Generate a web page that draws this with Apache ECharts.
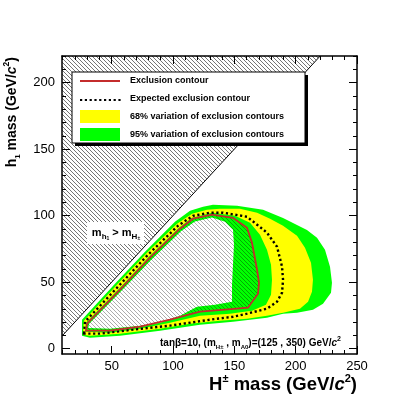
<!DOCTYPE html>
<html><head><meta charset="utf-8">
<script src="https://cdn.jsdelivr.net/npm/echarts@6/dist/echarts.min.js"></script>
<style>html,body{margin:0;padding:0;background:#fff;}#c{width:415px;height:399px;}</style>
</head><body><div id="c"></div>
<script>
// ---------- data ----------
const xRange = [9.5, 250];
const yRange = [-4, 220];
const xTicks = [50, 100, 150, 200, 250];
const yTicks = [0, 50, 100, 150, 200];
const xMinor = [10,20,30,40,50,60,70,80,90,100,110,120,130,140,150,160,170,180,190,200,210,220,230,240,250];
const yMinor = [0,10,20,30,40,50,60,70,80,90,100,110,120,130,140,150,160,170,180,190,200,210,220];
// kinematically forbidden region m_h1 > m_H+ (above the diagonal)
const forbidden = [[9.5, 9.5], [220, 220], [9.5, 220]];
const diagonal = [[9.5, 9.5], [220, 220]];
// observed exclusion contour
const observed = [[29.1,13.5],[29.9,18.8],[56.8,44.3],[81.2,68.4],[105.7,90.2],[116.3,97.7],[131.8,100.7],[148.9,98.4],[160.3,90.9],[164.4,79.6],[168.5,59.4],[170.1,49.6],[169.3,41.3],[161.1,30.8],[142.4,29.3],[122.0,27.8],[97.5,21.8],[73.1,16.5],[48.6,13.5]];
// expected exclusion contour
const expected = [[27.4,11.3],[28.3,20.3],[55.2,46.6],[79.6,70.6],[104.1,92.4],[116.3,99.9],[130.2,102.2],[140.8,102.2],[160.3,99.2],[168.5,93.2],[176.6,87.2],[184.8,76.6],[188.9,61.6],[189.7,51.8],[188.9,42.1],[184.8,35.3],[176.6,30.1],[160.3,26.3],[148.9,24.0],[130.2,21.8],[97.5,17.3],[67.4,14.3],[40.5,11.3]];
// 95% band outer (+2 sigma) and inner (-2 sigma)
const band95Outer = [[25.8,9.8],[25.8,21.8],[52.7,48.8],[77.2,72.9],[101.6,95.4],[113.9,103.7],[124.5,106.7],[132.6,108.2],[152.2,107.4],[173.4,104.4],[189.7,98.3],[209.2,89.3],[217.4,83.4],[223.9,74.4],[228.0,61.6],[229.6,49.6],[228.8,42.1],[222.3,33.8],[214.1,29.3],[201.1,27.0],[189.7,26.3],[176.6,23.3],[148.9,20.3],[122.0,18.0],[89.4,13.5],[56.8,9.8],[32.3,8.3]];
const band95Inner = [[31.0,15.5],[31.5,18.6],[58.0,43.6],[82.1,66.6],[106.5,88.2],[117.9,95.6],[131.8,98.6],[142.4,95.4],[148.9,89.4],[149.7,78.1],[148.9,63.1],[148.1,48.1],[148.1,35.3],[134.2,33.1],[119.6,31.6],[105.7,24.8],[89.4,19.5],[73.1,17.3],[48.6,15.0]];
// 68% band outer (+1 sigma) and inner (-1 sigma)
const band68Outer = [[26.6,10.5],[27.4,21.0],[54.3,48.1],[78.8,72.1],[103.3,93.9],[115.5,101.4],[127.7,104.4],[138.3,105.2],[154.6,105.2],[168.5,102.2],[179.1,97.7],[189.7,92.4],[201.1,84.9],[207.6,75.9],[212.5,64.6],[214.1,51.8],[213.3,42.8],[210.1,35.3],[203.5,30.1],[189.7,27.0],[176.6,24.8],[160.3,22.5],[138.3,21.0],[113.9,18.8],[89.4,15.0],[56.8,11.3],[32.3,9.8]];
const band68Inner = [[28.3,12.8],[29.1,19.5],[56.0,45.1],[80.4,69.1],[104.9,90.9],[115.5,98.4],[131.8,102.2],[150.5,100.0],[162.8,94.7],[170.9,85.7],[176.6,74.4],[179.9,63.1],[180.7,51.8],[179.9,40.6],[175.8,33.1],[164.4,28.6],[146.5,26.3],[122.0,24.8],[97.5,19.5],[73.1,15.0],[48.6,12.0]];
const legendLabels = ['Exclusion contour','Expected exclusion contour','68% variation of exclusion contours','95% variation of exclusion contours'];

// ---------- styles ----------
const FONT = '"Liberation Sans", Arial, Helvetica, sans-serif';
const RED = '#c42c2c', YEL = '#ffff00', GRN = '#00ff00';
function hatch(s, color, lw, bg) {
  const c = document.createElement('canvas'); c.width = s; c.height = s;
  const g = c.getContext('2d');
  if (bg) { g.fillStyle = bg; g.fillRect(0, 0, s, s); }
  g.strokeStyle = color; g.lineWidth = lw; g.beginPath();
  g.moveTo(-1, -1); g.lineTo(s + 1, s + 1);
  g.moveTo(-1, s - 1); g.lineTo(1, s + 1);
  g.moveTo(s - 1, -1); g.lineTo(s + 1, 1);
  g.stroke();
  return c;
}
const hatchOuter = {image: hatch(4, '#3a3a3a', 0.7, '#ffffff'), repeat: 'repeat'};
const hatchInner = {image: hatch(4, 'rgba(0,0,0,0.55)', 0.6, null), repeat: 'repeat'};

function shape(name, pts, type, style, z) {
  return {
    type: 'custom', name, coordinateSystem: 'cartesian2d', xAxisIndex: 0, yAxisIndex: 0,
    data: pts, clip: true, silent: true, z,
    renderItem: (params, api) => params.dataIndex === 0
      ? {type, shape: {points: pts.map(p => api.coord(p))}, style}
      : null
  };
}

function xAxisDef(pos, ticks, len, main) {
  return {
    type: 'value', position: pos, min: xRange[0], max: xRange[1], z: 10,
    axisLine: {show: main, onZero: false, lineStyle: {color: '#000', width: 1.5}},
    axisTick: {show: true, inside: true, length: len, customValues: ticks, lineStyle: {color: '#000', width: 1}},
    axisLabel: (pos === 'bottom' && main) ? {show: true, customValues: xTicks, color: '#000', fontSize: 13, fontFamily: FONT, margin: 6} : {show: false},
    splitLine: {show: false}
  };
}
function yAxisDef(pos, ticks, len, main) {
  return {
    type: 'value', position: pos, min: yRange[0], max: yRange[1], z: 10,
    axisLine: {show: main, onZero: false, lineStyle: {color: '#000', width: 1.5}},
    axisTick: {show: true, inside: true, length: len, customValues: ticks, lineStyle: {color: '#000', width: 1}},
    axisLabel: (pos === 'left' && main) ? {show: true, customValues: yTicks, color: '#000', fontSize: 13, fontFamily: FONT, margin: 7} : {show: false},
    splitLine: {show: false}
  };
}

const option = {
  animation: false,
  backgroundColor: '#fff',
  grid: {left: 62, right: 58, top: 56, bottom: 45, containLabel: false},
  xAxis: [xAxisDef('bottom', xTicks, 8, true), xAxisDef('bottom', xMinor, 4, false), xAxisDef('top', xTicks, 8, true), xAxisDef('top', xMinor, 4, false)],
  yAxis: [yAxisDef('left', yTicks, 8, true), yAxisDef('left', yMinor, 4, false), yAxisDef('right', yTicks, 8, true), yAxisDef('right', yMinor, 4, false)],
  series: [
    shape('forbidden', forbidden, 'polygon', {fill: hatchOuter, stroke: null}, 1),
    shape('diagonal', diagonal, 'polyline', {fill: null, stroke: '#000', lineWidth: 1}, 2),
    shape('95% outer', band95Outer, 'polygon', {fill: GRN, stroke: null}, 3),
    shape('68% outer', band68Outer, 'polygon', {fill: YEL, stroke: null}, 4),
    shape('68% inner', band68Inner, 'polygon', {fill: GRN, stroke: null}, 5),
    shape('95% inner', band95Inner, 'polygon', {fill: '#fff', stroke: null}, 6),
    shape('excluded', observed, 'polygon', {fill: hatchInner, stroke: null}, 7),
    shape('Expected exclusion contour', expected, 'polygon', {fill: null, stroke: '#000', lineWidth: 2.4, lineDash: [2.2, 2.6]}, 8),
    shape('Exclusion contour', observed, 'polygon', {fill: null, stroke: RED, lineWidth: 1.8}, 9)
  ],
  graphic: [
    // legend box with drop shadow
    {type: 'rect', z: 100, shape: {x: 75, y: 75, width: 233, height: 71}, style: {fill: '#000'}},
    {type: 'rect', z: 101, shape: {x: 72, y: 72, width: 233, height: 71}, style: {fill: '#fff', stroke: '#000', lineWidth: 1}},
    {type: 'line', z: 102, shape: {x1: 80, y1: 81, x2: 120, y2: 81}, style: {stroke: RED, lineWidth: 1.8}},
    {type: 'line', z: 102, shape: {x1: 80, y1: 100, x2: 121, y2: 100}, style: {stroke: '#000', lineWidth: 2.2, lineDash: [2.2, 2.6]}},
    {type: 'rect', z: 102, shape: {x: 80, y: 110, width: 40, height: 13}, style: {fill: YEL}},
    {type: 'rect', z: 102, shape: {x: 80, y: 128, width: 40, height: 13}, style: {fill: GRN}},
    {type: 'text', z: 102, x: 130, y: 81, style: {text: legendLabels[0], fill: '#000', font: 'bold 9px ' + FONT, verticalAlign: 'middle'}},
    {type: 'text', z: 102, x: 130, y: 99, style: {text: legendLabels[1], fill: '#000', font: 'bold 9px ' + FONT, verticalAlign: 'middle'}},
    {type: 'text', z: 102, x: 130, y: 117, style: {text: legendLabels[2], fill: '#000', font: 'bold 9px ' + FONT, verticalAlign: 'middle'}},
    {type: 'text', z: 102, x: 130, y: 135, style: {text: legendLabels[3], fill: '#000', font: 'bold 9px ' + FONT, verticalAlign: 'middle'}},
    // forbidden-region label
    {type: 'rect', z: 100, shape: {x: 87, y: 222, width: 57, height: 22}, style: {fill: '#fff'}},
    {type: 'text', z: 101, x: 116, y: 233, style: {
      text: '{m|m}{s|h}{ss|1}{m| > m}{s|H}{ss|±}', align: 'center', verticalAlign: 'middle',
      rich: {
        m: {fontSize: 11, fontWeight: 'bold', fontFamily: FONT, lineHeight: 16, verticalAlign: 'middle', fill: '#000'},
        s: {fontSize: 8, fontWeight: 'bold', fontFamily: FONT, lineHeight: 9, verticalAlign: 'bottom', fill: '#000'},
        ss: {fontSize: 5, fontWeight: 'bold', fontFamily: FONT, lineHeight: 5, verticalAlign: 'bottom', fill: '#000'}
      }}},
    // parameter annotation
    {type: 'text', z: 101, x: 160, y: 343, style: {
      text: '{m|tanβ=10, (m}{s|H±}{m| , m}{s|A0}{m|)=(125 , 350) GeV/}{i|c}{p|2}', verticalAlign: 'middle',
      rich: {
        m: {fontSize: 10, fontWeight: 'bold', fontFamily: FONT, lineHeight: 14, verticalAlign: 'middle', fill: '#000'},
        i: {fontSize: 10, fontWeight: 'bold', fontStyle: 'italic', fontFamily: FONT, lineHeight: 14, verticalAlign: 'middle', fill: '#000'},
        s: {fontSize: 6, fontWeight: 'bold', fontFamily: FONT, lineHeight: 6, verticalAlign: 'bottom', fill: '#000'},
        p: {fontSize: 7, fontWeight: 'bold', fontFamily: FONT, lineHeight: 7, verticalAlign: 'top', fill: '#000'}
      }}},
    // x axis title
    {type: 'text', z: 101, x: 357, y: 385, style: {
      text: '{m|H}{p|±}{m| mass (GeV/}{i|c}{p|2}{m|)}', align: 'right', verticalAlign: 'middle',
      rich: {
        m: {fontSize: 18.5, fontWeight: 'bold', fontFamily: FONT, lineHeight: 24, verticalAlign: 'middle', fill: '#000'},
        i: {fontSize: 18.5, fontWeight: 'bold', fontStyle: 'italic', fontFamily: FONT, lineHeight: 24, verticalAlign: 'middle', fill: '#000'},
        p: {fontSize: 11, fontWeight: 'bold', fontFamily: FONT, lineHeight: 11, verticalAlign: 'top', fill: '#000'}
      }}},
    // y axis title
    {type: 'text', z: 101, x: 12, y: 57, rotation: Math.PI / 2, style: {
      text: '{m|h}{s|1}{m| mass (GeV/}{i|c}{p|2}{m|)}', align: 'right', verticalAlign: 'middle',
      rich: {
        m: {fontSize: 14, fontWeight: 'bold', fontFamily: FONT, lineHeight: 19, verticalAlign: 'middle', fill: '#000'},
        i: {fontSize: 14, fontWeight: 'bold', fontStyle: 'italic', fontFamily: FONT, lineHeight: 19, verticalAlign: 'middle', fill: '#000'},
        s: {fontSize: 8, fontWeight: 'bold', fontFamily: FONT, lineHeight: 8, verticalAlign: 'bottom', fill: '#000'},
        p: {fontSize: 8.5, fontWeight: 'bold', fontFamily: FONT, lineHeight: 8.5, verticalAlign: 'top', fill: '#000'}
      }}}
  ]
};
const chart = echarts.init(document.getElementById('c'), null, {renderer: 'canvas'});
chart.setOption(option);
</script>
</body></html>
